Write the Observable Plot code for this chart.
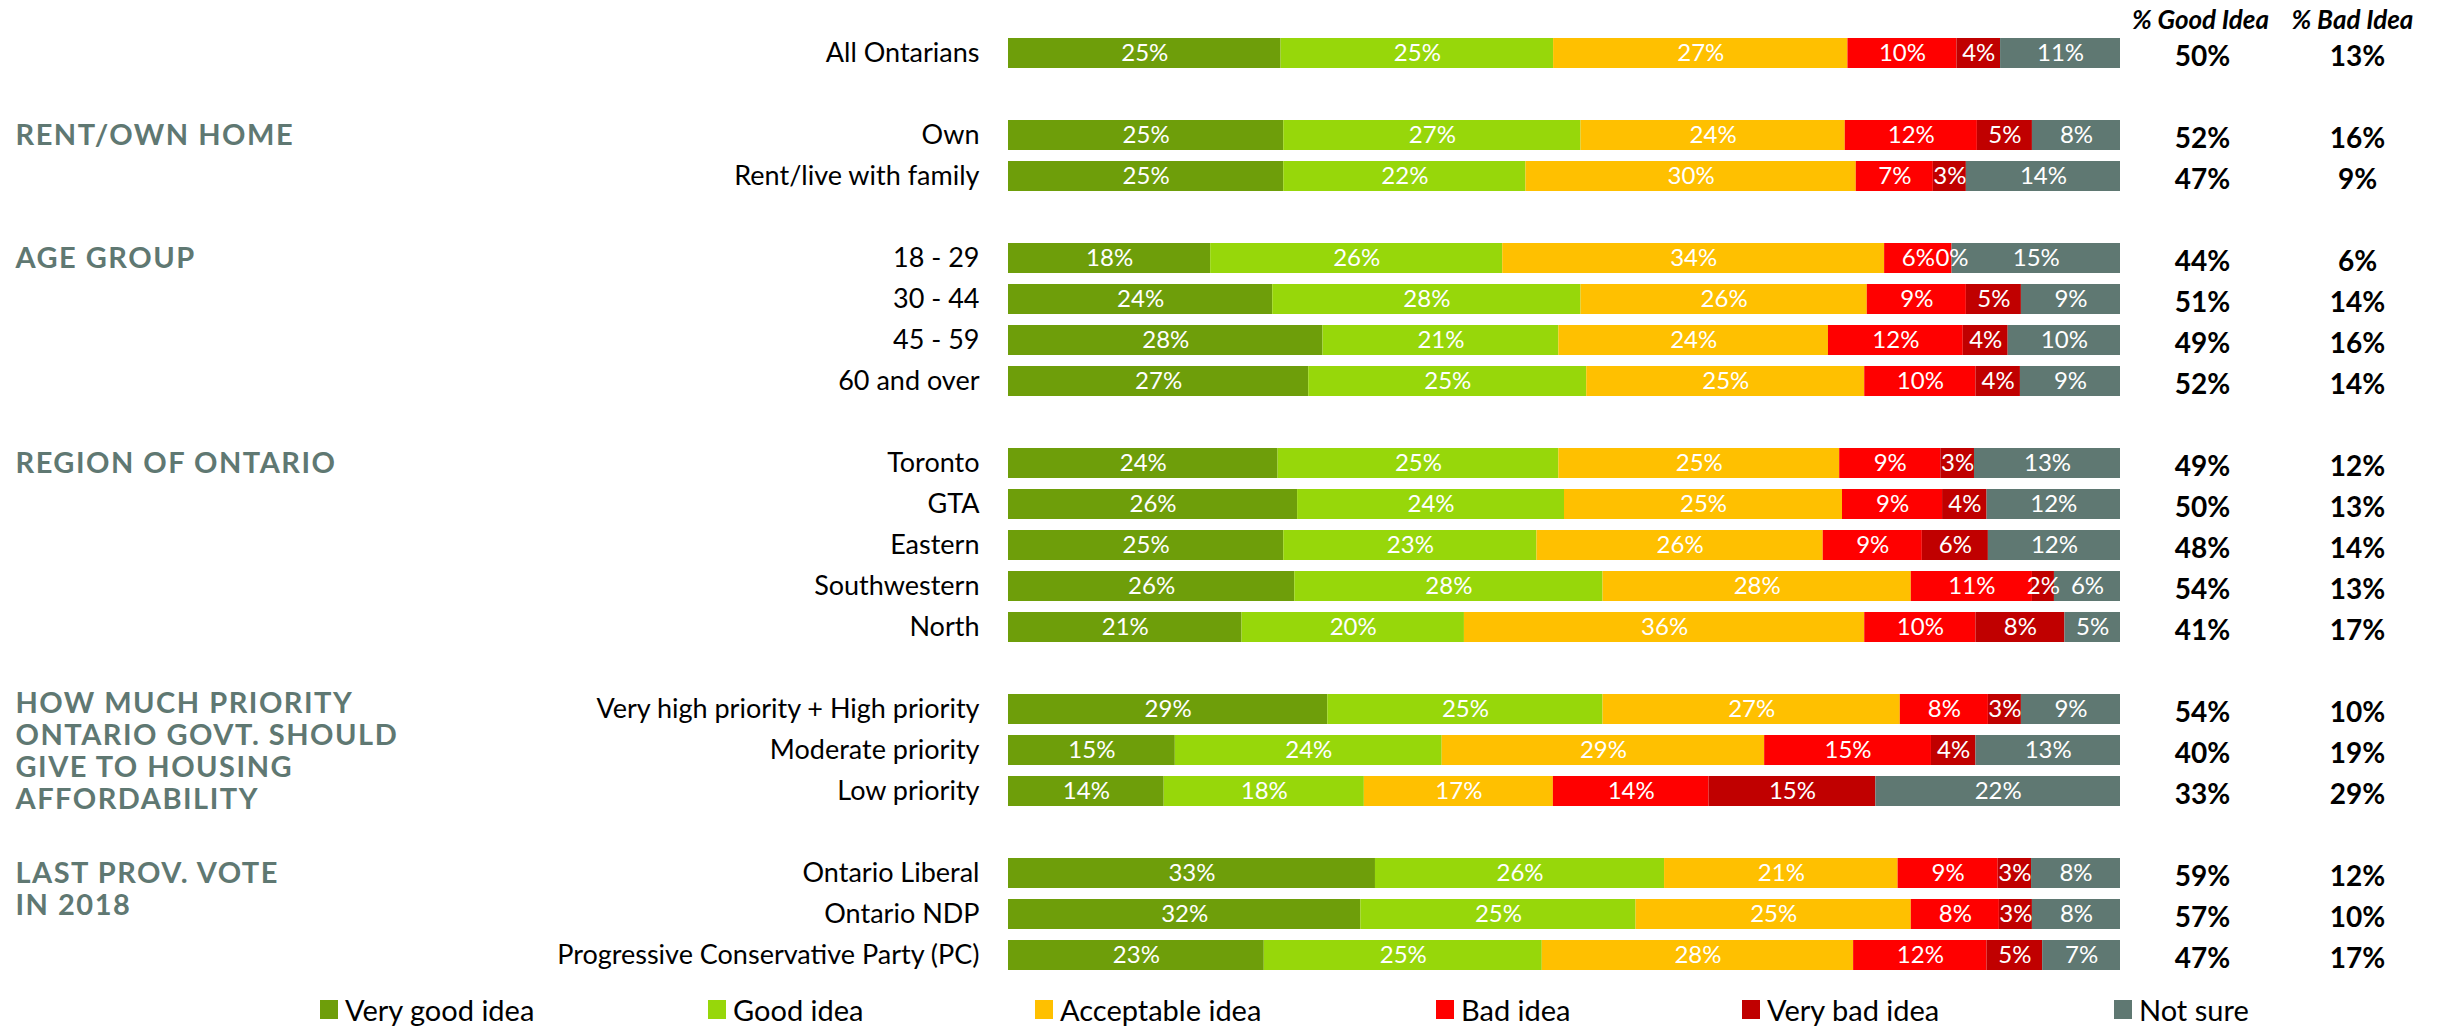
<!DOCTYPE html>
<html>
<head>
<meta charset="utf-8">
<script src="https://cdn.jsdelivr.net/npm/d3@7"></script>
<script src="https://cdn.jsdelivr.net/npm/@observablehq/plot@0.6"></script>
<style>
  html, body { margin: 0; padding: 0; background: #ffffff; }
  #wrap { position: relative; width: 2443px; height: 1027px; overflow: hidden; font-family: Lato, "Noto Sans", sans-serif; }
  #legend { position: relative; width: 2443px; height: 42px; top: 3px; }
  .li { position: absolute; top: 0; height: 42px; display: flex; align-items: center; font-size: 29px; color: #000; white-space: nowrap; }
  .sw { width: 18px; height: 19px; margin-right: 7px; display: inline-block; }
  .grp text { letter-spacing: 1.5px; }
</style>
</head>
<body>
<div id="wrap">
  <div id="chart"></div>
  <div id="legend"></div>
</div>
<script>
// ---- Data ----
const categories = ["Very good idea", "Good idea", "Acceptable idea", "Bad idea", "Very bad idea", "Not sure"];
const colors = ["#6e9e0a", "#97d70a", "#ffc000", "#ff0000", "#c00000", "#5f7872"];

const rows = [
  "All Ontarians",
  "Own", "Rent/live with family",
  "18 - 29", "30 - 44", "45 - 59", "60 and over",
  "Toronto", "GTA", "Eastern", "Southwestern", "North",
  "Very high priority + High priority", "Moderate priority", "Low priority",
  "Ontario Liberal", "Ontario NDP", "Progressive Conservative Party (PC)"
];
const groupTitles = [
  "",
  "RENT/OWN HOME",
  "AGE GROUP",
  "REGION OF ONTARIO",
  "HOW MUCH PRIORITY\nONTARIO GOVT. SHOULD\nGIVE TO HOUSING\nAFFORDABILITY",
  "LAST PROV. VOTE\nIN 2018"
];
const groupSizes = [1, 2, 4, 5, 3, 3];

const veryGood   = [25, 25, 25, 18, 24, 28, 27, 24, 26, 25, 26, 21, 29, 15, 14, 33, 32, 23];
const good       = [25, 27, 22, 26, 28, 21, 25, 25, 24, 23, 28, 20, 25, 24, 18, 26, 25, 25];
const acceptable = [27, 24, 30, 34, 26, 24, 25, 25, 25, 26, 28, 36, 27, 29, 17, 21, 25, 28];
const bad        = [10, 12,  7,  6,  9, 12, 10,  9,  9,  9, 11, 10,  8, 15, 14,  9,  8, 12];
const veryBad    = [ 4,  5,  3,  0,  5,  4,  4,  3,  4,  6,  2,  8,  3,  4, 15,  3,  3,  5];
const notSure    = [11,  8, 14, 15,  9, 10,  9, 13, 12, 12,  6,  5,  9, 13, 22,  8,  8,  7];

const pctGood = [50, 52, 47, 44, 51, 49, 52, 49, 50, 48, 54, 41, 54, 40, 33, 59, 57, 47];
const pctBad  = [13, 16,  9,  6, 14, 16, 14, 12, 13, 14, 13, 17, 10, 19, 29, 12, 10, 17];

const summaryHeaders = ["% Good Idea", "% Bad Idea"];

// ---- Build tables ----
const series = [veryGood, good, acceptable, bad, veryBad, notSure];
const long = [];
rows.forEach((r, i) => {
  categories.forEach((c, j) => long.push({row: r, category: c, value: series[j][i]}));
});
const summary = rows.map((r, i) => ({row: r, good: pctGood[i], bad: pctBad[i]}));

// y domain with spacer slots between groups
const yDomain = [];
const groupStarts = [];
let k = 0;
groupSizes.forEach((n, g) => {
  if (g > 0) yDomain.push("__gap" + g);
  groupStarts.push({row: rows[k], title: groupTitles[g]});
  for (let i = 0; i < n; i++) yDomain.push(rows[k++]);
});
const groupLabels = groupStarts.filter(d => d.title);
const shortGroups = groupLabels.filter(d => d.title.split("\n").length <= 2);
const tallGroups = groupLabels.filter(d => d.title.split("\n").length > 2);

const grpStyle = {frameAnchor: "left", dx: -993, textAnchor: "start", lineAnchor: "top",
  lineHeight: 1.1, fontSize: 29, fontWeight: "bold", fill: "#5f7872", className: "grp"};
const headStyle = {frameAnchor: "top-right", lineAnchor: "middle", dy: -12,
  fontWeight: "bold", fontStyle: "italic", fontSize: 26, textAnchor: "middle", fill: "black"};

const chart = Plot.plot({
  width: 2443,
  height: 985,
  marginLeft: 1008,
  marginRight: 323,
  marginTop: 32,
  marginBottom: 10,
  style: {fontFamily: "Lato, 'Noto Sans', sans-serif", background: "#ffffff", color: "#000"},
  x: {domain: [0, 1], axis: null},
  y: {domain: yDomain, paddingInner: 11 / 41, paddingOuter: 5.5 / 41, label: null},
  color: {domain: categories, range: colors},
  marks: [
    Plot.axisY({tickSize: 0, tickPadding: 29, fontSize: 27, label: null,
      tickFormat: d => d.startsWith("__gap") ? "" : d}),
    Plot.barX(long, Plot.stackX({x: "value", y: "row", fill: "category", offset: "normalize"})),
    Plot.text(long, Plot.stackX({x: "value", y: "row", z: "category", offset: "normalize",
      text: d => d.value + "%", fill: "white", fontSize: 24})),
    Plot.text(summary, {y: "row", text: d => d.good + "%", frameAnchor: "right", dx: 82, dy: 4,
      fontWeight: "bold", fontSize: 28, textAnchor: "middle", fill: "black"}),
    Plot.text(summary, {y: "row", text: d => d.bad + "%", frameAnchor: "right", dx: 237, dy: 4,
      fontWeight: "bold", fontSize: 28, textAnchor: "middle", fill: "black"}),
    Plot.text([summaryHeaders[0]], {text: d => d, dx: 80, ...headStyle}),
    Plot.text([summaryHeaders[1]], {text: d => d, dx: 232, ...headStyle}),
    Plot.text(shortGroups, {y: "row", text: "title", dy: -13, ...grpStyle}),
    Plot.text(tallGroups, {y: "row", text: "title", dy: -19, ...grpStyle})
  ]
});
document.getElementById("chart").appendChild(chart);

// ---- Legend ----
const legendLefts = [320, 708, 1035, 1436, 1742, 2114];
const legend = document.getElementById("legend");
categories.forEach((c, i) => {
  const item = document.createElement("div");
  item.className = "li";
  item.style.left = legendLefts[i] + "px";
  const sw = document.createElement("span");
  sw.className = "sw";
  sw.style.background = colors[i];
  item.appendChild(sw);
  item.appendChild(document.createTextNode(c));
  legend.appendChild(item);
});
</script>
</body>
</html>
